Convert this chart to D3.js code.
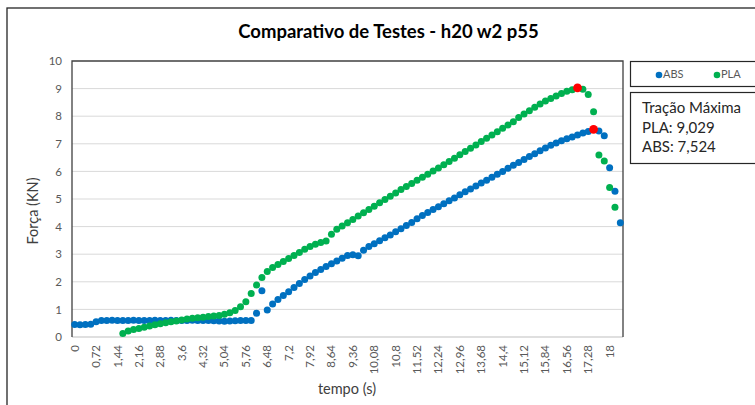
<!DOCTYPE html>
<html>
<head>
<meta charset="utf-8">
<script src="https://cdn.jsdelivr.net/npm/d3@7"></script>
<style>
body { margin: 0; background: #fff; }
text { font-family: Lato, "Noto Sans", sans-serif; }
</style>
</head>
<body>
<svg id="chart"></svg>
<script>
var width = 755;
var height = 405;

// tempo (s) - one category every 0.18 s
var tempo = [
  0, 0.18, 0.36, 0.54, 0.72, 0.9, 1.08, 1.26, 1.44, 1.62,
  1.8, 1.98, 2.16, 2.34, 2.52, 2.7, 2.88, 3.06, 3.24, 3.42,
  3.6, 3.78, 3.96, 4.14, 4.32, 4.5, 4.68, 4.86, 5.04, 5.22,
  5.4, 5.58, 5.76, 5.94, 6.12, 6.3, 6.48, 6.66, 6.84, 7.02,
  7.2, 7.38, 7.56, 7.74, 7.92, 8.1, 8.28, 8.46, 8.64, 8.82,
  9, 9.18, 9.36, 9.54, 9.72, 9.9, 10.08, 10.26, 10.44, 10.62,
  10.8, 10.98, 11.16, 11.34, 11.52, 11.7, 11.88, 12.06, 12.24, 12.42,
  12.6, 12.78, 12.96, 13.14, 13.32, 13.5, 13.68, 13.86, 14.04, 14.22,
  14.4, 14.58, 14.76, 14.94, 15.12, 15.3, 15.48, 15.66, 15.84, 16.02,
  16.2, 16.38, 16.56, 16.74, 16.92, 17.1, 17.28, 17.46, 17.64, 17.82,
  18, 18.18, 18.36
];

var xTickLabels = ["0", "0,72", "1,44", "2,16", "2,88", "3,6", "4,32", "5,04", "5,76", "6,48",
  "7,2", "7,92", "8,64", "9,36", "10,08", "10,8", "11,52", "12,24", "12,96", "13,68",
  "14,4", "15,12", "15,84", "16,56", "17,28", "18"];
var yTicks = [0, 1, 2, 3, 4, 5, 6, 7, 8, 9, 10];

// Força (KN)
var abs = [
  0.45, 0.44, 0.45, 0.46, 0.55, 0.60, 0.60, 0.61, 0.60, 0.60,
  0.60, 0.61, 0.60, 0.60, 0.60, 0.61, 0.60, 0.60, 0.61, 0.60,
  0.60, 0.60, 0.61, 0.60, 0.60, 0.60, 0.59, 0.58, 0.57, 0.58,
  0.59, 0.60, 0.60, 0.60, 0.86, 1.68, 0.98, 1.20, 1.36, 1.50,
  1.64, 1.79, 1.94, 2.08, 2.21, 2.34, 2.45, 2.55, 2.65, 2.75,
  2.85, 2.95, 2.98, 2.94, 3.14, 3.28, 3.38, 3.49, 3.60, 3.70,
  3.81, 3.92, 4.04, 4.15, 4.28, 4.40, 4.51, 4.62, 4.72, 4.83,
  4.94, 5.04, 5.15, 5.26, 5.36, 5.47, 5.58, 5.68, 5.79, 5.90,
  6.00, 6.11, 6.22, 6.32, 6.43, 6.54, 6.64, 6.75, 6.85, 6.95,
  7.03, 7.11, 7.18, 7.25, 7.32, 7.39, 7.45, 7.524, 7.46, 7.29,
  6.13, 5.28, 4.14
];
var pla = [
  null, null, null, null, null, null, null, null, null, 0.13,
  0.22, 0.27, 0.31, 0.35, 0.40, 0.44, 0.48, 0.52, 0.55, 0.58,
  0.62, 0.65, 0.68, 0.70, 0.72, 0.74, 0.76, 0.78, 0.82, 0.88,
  0.96, 1.10, 1.28, 1.58, 1.88, 2.16, 2.37, 2.52, 2.63, 2.74,
  2.84, 2.95, 3.06, 3.18, 3.28, 3.36, 3.42, 3.48, 3.72, 3.90,
  4.02, 4.14, 4.26, 4.38, 4.50, 4.62, 4.74, 4.86, 4.98, 5.10,
  5.22, 5.34, 5.45, 5.56, 5.68, 5.79, 5.90, 6.01, 6.12, 6.24,
  6.36, 6.48, 6.60, 6.72, 6.84, 6.96, 7.08, 7.20, 7.32, 7.44,
  7.56, 7.68, 7.80, 7.95, 8.08, 8.20, 8.32, 8.44, 8.55, 8.64,
  8.73, 8.82, 8.90, 8.96, 9.029, 8.98, 8.79, 8.16, 6.59, 6.38,
  5.42, 4.70, null
];

var plotL = 72, plotR = 623, plotT = 61, plotB = 337;

var svg = d3.select("#chart")
  .attr("width", width)
  .attr("height", height);

// chart area border (runs off the right / bottom edge)
svg.append("rect")
  .attr("x", 7).attr("y", 8)
  .attr("width", 800).attr("height", 450)
  .style("fill", "#fff").style("stroke", "#262626").style("stroke-width", 1.3);

var x = d3.scaleBand().domain(tempo).range([plotL, plotR]);
var y = d3.scaleLinear().domain([0, 10]).range([plotB, plotT]);
function cx(t) { return x(t) + x.bandwidth() / 2; }

svg.append("g").selectAll("line")
  .data(yTicks.slice(1, -1))
  .enter().append("line")
  .attr("x1", plotL).attr("x2", plotR)
  .attr("y1", function(d) { return y(d); })
  .attr("y2", function(d) { return y(d); })
  .style("stroke", "#d9d9d9").style("stroke-width", 1);

// plot area frame
svg.append("line").attr("x1", plotL).attr("x2", plotR).attr("y1", plotB).attr("y2", plotB)
  .style("stroke", "#bfbfbf").style("stroke-width", 1.2);
svg.append("path")
  .attr("d", "M" + plotL + "," + plotB + "V" + plotT + "H" + plotR + "V" + plotB)
  .style("fill", "none").style("stroke", "#404040").style("stroke-width", 1.3);

var yAxis = svg.append("g")
  .attr("transform", "translate(" + plotL + ",0)")
  .call(d3.axisLeft(y).tickValues(yTicks).tickSize(0).tickPadding(10));
yAxis.select(".domain").remove();
yAxis.selectAll("text")
  .style("font-family", "Lato, sans-serif").style("font-size", "11.5px").style("fill", "#595959");

var xTicks = tempo.filter(function(d, i) { return i % 4 === 0; });
var xAxis = svg.append("g")
  .attr("transform", "translate(0," + plotB + ")")
  .call(d3.axisBottom(x).tickValues(xTicks).tickSize(0)
    .tickFormat(function(d, i) { return xTickLabels[i]; }));
xAxis.select(".domain").remove();
xAxis.selectAll("text")
  .attr("x", -8).attr("y", 0).attr("dy", "0.35em")
  .attr("transform", "rotate(-90)")
  .style("text-anchor", "end")
  .style("font-family", "Lato, sans-serif").style("font-size", "11.5px").style("fill", "#595959");

function drawSeries(values, color) {
  var pts = tempo.map(function(t, i) { return {t: t, v: values[i]}; })
    .filter(function(d) { return d.v != null; });
  svg.append("g").selectAll("circle")
    .data(pts)
    .enter().append("circle")
    .attr("cx", function(d) { return cx(d.t); })
    .attr("cy", function(d) { return y(d.v); })
    .attr("r", 3.5)
    .style("fill", color);
}
drawSeries(abs, "#0070c0");
drawSeries(pla, "#00b050");

// maximum markers
var maxes = [abs, pla].map(function(s) {
  var i = d3.maxIndex(s);
  return {t: tempo[i], v: s[i]};
});
svg.append("g").selectAll("circle")
  .data(maxes)
  .enter().append("circle")
  .attr("cx", function(d) { return cx(d.t); })
  .attr("cy", function(d) { return y(d.v); })
  .attr("r", 4.4)
  .style("fill", "#ff0000");

svg.append("text")
  .attr("x", 388.5).attr("y", 38)
  .attr("text-anchor", "middle")
  .style("font-size", "18.5px").style("font-weight", "bold").style("fill", "#000")
  .text("Comparativo de Testes - h20 w2 p55");

svg.append("text")
  .attr("transform", "translate(33,211) rotate(-90)")
  .attr("text-anchor", "middle").attr("dy", "0.35em")
  .style("font-size", "14.5px").style("fill", "#404040")
  .text("Força (KN)");

svg.append("text")
  .attr("x", 347).attr("y", 394)
  .attr("text-anchor", "middle")
  .style("font-size", "14.5px").style("fill", "#404040")
  .text("tempo (s)");

// legend
var legend = [{name: "ABS", color: "#0070c0", x: 659}, {name: "PLA", color: "#00b050", x: 717}];
svg.append("rect")
  .attr("x", 630.5).attr("y", 61.5).attr("width", 200).attr("height", 25)
  .style("fill", "#fff").style("stroke", "#262626").style("stroke-width", 1.2);
var lg = svg.append("g").selectAll("g").data(legend).enter().append("g");
lg.append("circle")
  .attr("cx", function(d) { return d.x; }).attr("cy", 75).attr("r", 3.3)
  .style("fill", function(d) { return d.color; });
lg.append("text")
  .attr("x", function(d) { return d.x + 4; }).attr("y", 74).attr("dy", "0.35em")
  .style("font-size", "11px").style("fill", "#595959")
  .text(function(d) { return d.name; });

// text box
var boxLines = ["Tração Máxima", "PLA: 9,029", "ABS: 7,524"];
svg.append("rect")
  .attr("x", 630.5).attr("y", 92.5).attr("width", 200).attr("height", 71)
  .style("fill", "#fff").style("stroke", "#262626").style("stroke-width", 1.2);
svg.append("g").selectAll("text")
  .data(boxLines)
  .enter().append("text")
  .attr("x", 642)
  .attr("y", function(d, i) { return 113 + i * 19.5; })
  .style("font-size", "15px").style("fill", "#262626")
  .text(function(d) { return d; });
</script>
</body>
</html>
